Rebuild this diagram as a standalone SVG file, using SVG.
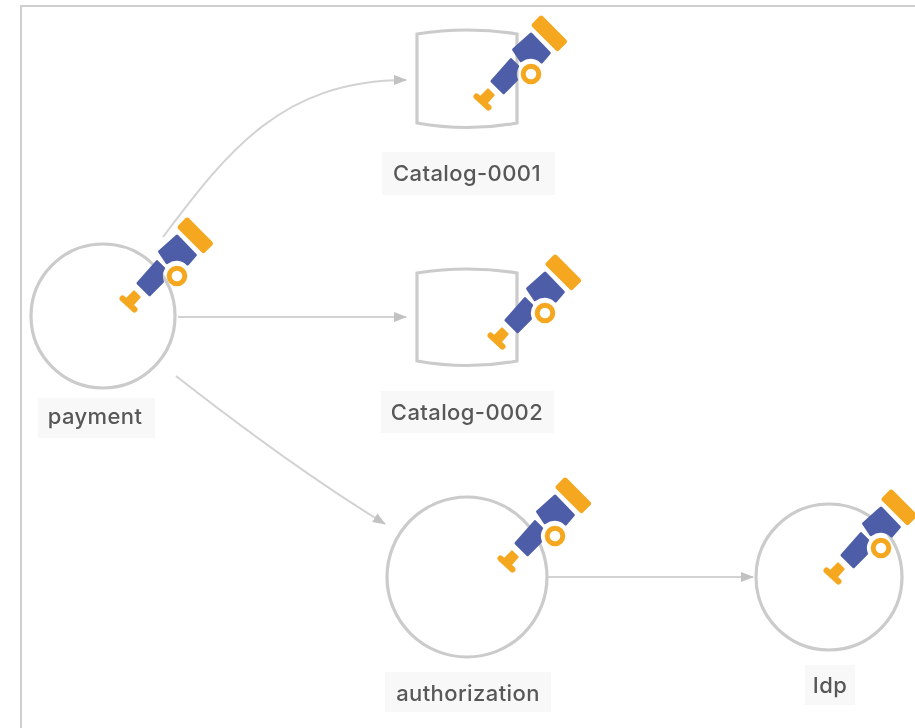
<svg xmlns="http://www.w3.org/2000/svg" width="915" height="728" viewBox="0 0 915 728">
<style>
.shape{fill:none;stroke:#cbcbcb;stroke-width:3.2;filter:url(#soft)}
.edge{fill:none;stroke:#d2d2d2;stroke-width:2;filter:url(#soft)}
.lbg{fill:#f8f8f8}
.lbl{font-family:"Inter","Liberation Sans",sans-serif;font-size:22px;font-weight:500;fill:#585858;text-anchor:middle;letter-spacing:.4px;filter:url(#soft)}
.blue{fill:#4d5da8;stroke:#4d5da8;stroke-width:3;stroke-linejoin:round}
.org{fill:#f5a81f}
</style>
<defs>
<filter id="soft" x="0" y="0" width="915" height="728" filterUnits="userSpaceOnUse"><feGaussianBlur stdDeviation="0.5"/></filter>
<marker id="arrow" viewBox="0 0 13 12" refX="12" refY="6" markerWidth="13" markerHeight="12" markerUnits="userSpaceOnUse" orient="auto"><path d="M0 1L13 6L0 11Z" fill="#c2c2c2"/></marker>
<g id="scope">
<rect class="org" x="-19" y="-7.5" width="38" height="15" rx="2.5" transform="translate(18.3 -40.7) rotate(45)"/>
<path class="blue" d="M-17.4-24.3L0-40L18.3-21L10.6-12A15 15 0 0 0-10-13.3Z"/>
<path class="blue" d="M-39 7.3L-20-14.3L-13.4-7.7A15 15 0 0 0-14.5 5.7L-27.4 18.7Z"/>
<path d="M-54.5 22.5L-42.5 33.5" fill="none" stroke="#f5a81f" stroke-width="6" stroke-linecap="round"/>
<path d="M-43 15L-37 21L-44 29L-51 23Z" fill="#f5a81f" stroke="#f5a81f" stroke-width="1.5" stroke-linejoin="round"/>
<circle r="7.8" fill="#fff" stroke="#f5a81f" stroke-width="5"/>
</g>
</defs>
<rect x="21" y="6" width="920" height="740" fill="#fff" stroke="#cfcfcf" stroke-width="2"/>
<g id="connectors">
<path class="edge" marker-end="url(#arrow)" d="M163 237C225 155 280 80 406 80"/>
<path class="edge" marker-end="url(#arrow)" d="M178 317H406"/>
<path class="edge" marker-end="url(#arrow)" d="M176 376C245 430 310 478 385 524"/>
<path class="edge" marker-end="url(#arrow)" d="M548 577H753"/>
</g>
<g id="payment">
<circle class="shape" cx="103" cy="316" r="72"/>
<rect class="lbg" x="38" y="398" width="117" height="40"/>
<text class="lbl" x="95" y="424">payment</text>
<use href="#scope" x="177" y="276"/>
</g>
<g id="catalog-0001">
<path class="shape" d="M417 34Q467 26 517 34V123Q467 132 417 123Z"/>
<rect class="lbg" x="382" y="152" width="173" height="43"/>
<text class="lbl" x="467" y="181">Catalog-0001</text>
<use href="#scope" x="531" y="74"/>
</g>
<g id="catalog-0002">
<path class="shape" d="M417 273Q467 265 517 273V361Q467 370 417 361Z"/>
<rect class="lbg" x="381" y="391" width="173" height="42"/>
<text class="lbl" x="467" y="420">Catalog-0002</text>
<use href="#scope" x="545" y="313"/>
</g>
<g id="authorization">
<circle class="shape" cx="467" cy="577" r="80"/>
<rect class="lbg" x="385" y="672" width="166" height="40"/>
<text class="lbl" x="468" y="701">authorization</text>
<use href="#scope" x="555" y="536"/>
</g>
<g id="idp">
<circle class="shape" cx="829" cy="577" r="73"/>
<rect class="lbg" x="805" y="665" width="50" height="40"/>
<text class="lbl" x="830" y="693">Idp</text>
<use href="#scope" x="881" y="548"/>
</g>
</svg>
